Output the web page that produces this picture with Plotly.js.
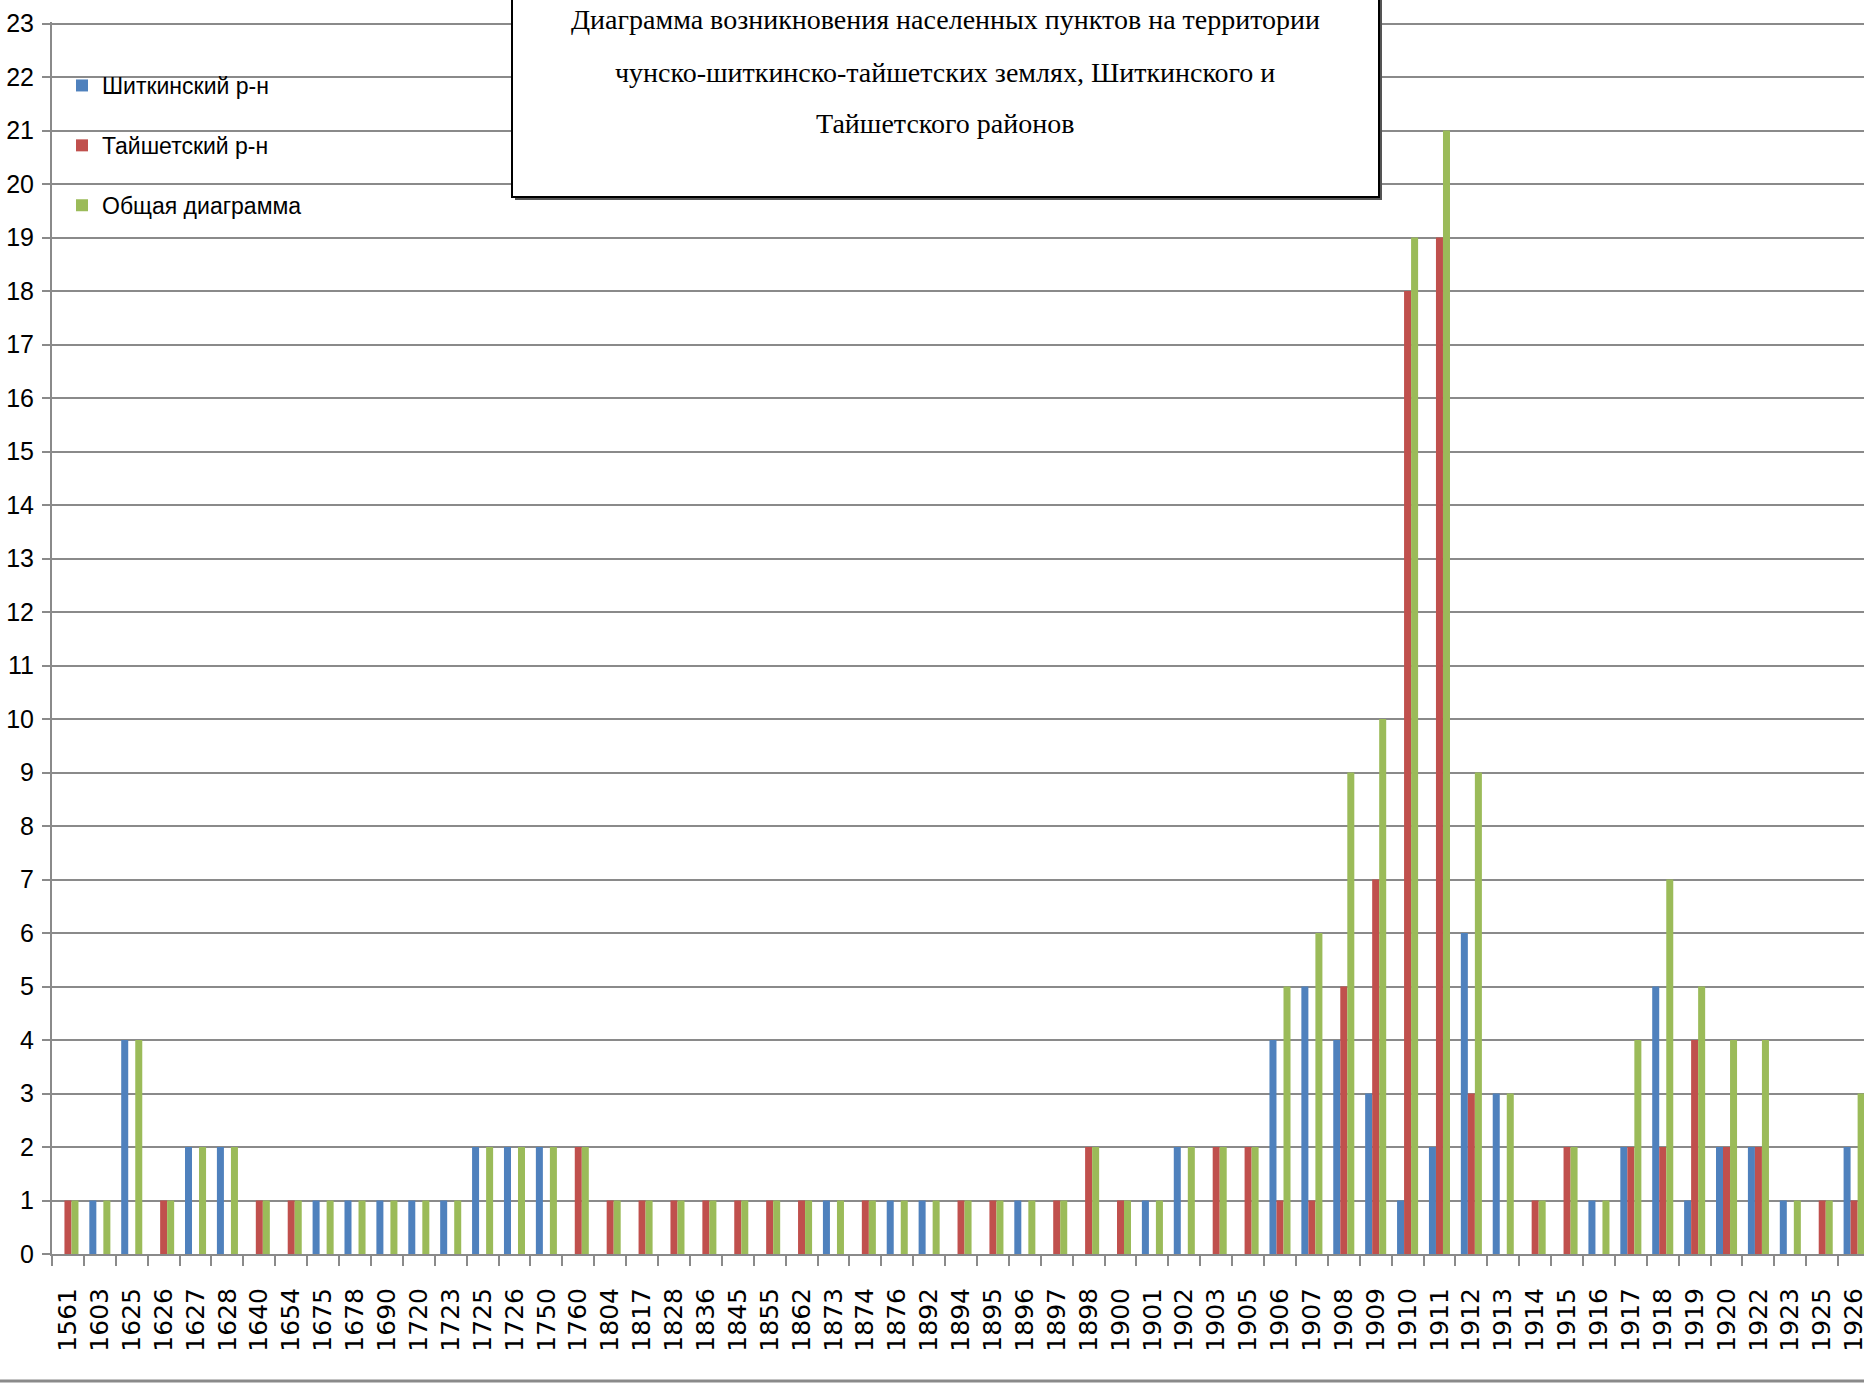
<!DOCTYPE html>
<html>
<head>
<meta charset="utf-8">
<script src="https://cdn.plot.ly/plotly-3.0.1.min.js"></script>
<style>
html,body{margin:0;padding:0;background:#fff;}
#chart{width:1864px;height:1383px;}
</style>
</head>
<body>
<div id="chart"></div>
<script>
const years = ['1561','1603','1625','1626','1627','1628','1640','1654','1675','1678','1690','1720','1723','1725','1726','1750','1760','1804','1817','1828','1836','1845','1855','1862','1873','1874','1876','1892','1894','1895','1896','1897','1898','1900','1901','1902','1903','1905','1906','1907','1908','1909','1910','1911','1912','1913','1914','1915','1916','1917','1918','1919','1920','1922','1923','1925','1926'];
const shitkinsky = [0,1,4,0,2,2,0,0,1,1,1,1,1,2,2,2,0,0,0,0,0,0,0,0,1,0,1,1,0,0,1,0,0,0,1,2,0,0,4,5,4,3,1,2,6,3,0,0,1,2,5,1,2,2,1,0,2];
const taishet    = [1,0,0,1,0,0,1,1,0,0,0,0,0,0,0,0,2,1,1,1,1,1,1,1,0,1,0,0,1,1,0,1,2,1,0,0,2,2,1,1,5,7,18,19,3,0,1,2,0,2,2,4,2,2,0,1,1];
const total      = [1,1,4,1,2,2,1,1,1,1,1,1,1,2,2,2,2,1,1,1,1,1,1,1,1,1,1,1,1,1,1,1,2,1,1,2,2,2,5,6,9,10,19,21,9,3,1,2,1,4,7,5,4,4,1,1,3];
const seriesNames = ['Шиткинский р-н','Тайшетский р-н','Общая диаграмма'];
const titleLines = ['Диаграмма возникновения населенных пунктов на территории','чунско-шиткинско-тайшетских землях, Шиткинского и','Тайшетского районов'];
const yTicks = [0,1,2,3,4,5,6,7,8,9,10,11,12,13,14,15,16,17,18,19,20,21,22,23];

const colors = ['#4F81BD','#C0504D','#9BBB59'];
const seriesData = [shitkinsky, taishet, total];

const W = 1864, H = 1383;
const L = 52, R = 0, T = 22, B = 129;
const pw = W - L - R, ph = H - T - B;
const px = x => (x - L) / pw;          // pixel x -> paper
const py = y => (H - B - y) / ph;      // pixel y -> paper

const traces = seriesData.map((d, i) => ({
  type: 'bar',
  x: years,
  y: d,
  name: seriesNames[i],
  legendgroup: 'g' + i,
  marker: {color: colors[i], line: {width: 0}},
  hoverinfo: 'x+y+name'
}));

const titleY = [20, 72, 124];
const annotations = titleLines.map((t, i) => ({
  text: t, xref: 'paper', yref: 'paper',
  x: px(945), y: py(titleY[i]), xanchor: 'center', yanchor: 'middle',
  showarrow: false,
  font: {family: 'Liberation Serif, Times New Roman, serif', size: 28, color: '#000'}
}));

const layout = {
  width: W, height: H,
  margin: {l: L, r: R, t: T, b: B, pad: 0},
  paper_bgcolor: '#fff', plot_bgcolor: '#fff',
  barmode: 'group', bargap: 0.34, bargroupgap: 0,
  showlegend: true,
  legend: {
    x: px(62), y: py(64), xanchor: 'left', yanchor: 'top',
    bgcolor: 'rgba(0,0,0,0)', borderwidth: 0,
    traceorder: 'grouped', tracegroupgap: 27,
    font: {family: 'Liberation Sans Narrow, Arial Narrow, sans-serif', size: 23, color: '#000'},
    itemwidth: 30
  },
  xaxis: {
    type: 'category',
    range: [-0.5, 56.31],
    tickson: 'boundaries',
    ticks: 'outside', ticklen: 10, tickwidth: 2, tickcolor: '#8a8a8a',
    tickangle: -90,
    ticklabelstandoff: 22,
    tickfont: {family: 'DejaVu Sans, sans-serif', size: 25, color: '#000'},
    showline: true, linecolor: '#8a8a8a', linewidth: 2,
    showgrid: false, zeroline: false, fixedrange: true
  },
  yaxis: {
    range: [0, 23.03],
    tickmode: 'array', tickvals: yTicks, ticktext: yTicks.map(String),
    ticks: 'outside', ticklen: 8, tickwidth: 2, tickcolor: '#8a8a8a',
    ticklabelstandoff: 3,
    tickfont: {family: 'Liberation Sans Narrow, Arial Narrow, sans-serif', size: 25, color: '#000'},
    showline: true, linecolor: '#8a8a8a', linewidth: 2,
    showgrid: true, gridcolor: '#8a8a8a', gridwidth: 2,
    zeroline: false, fixedrange: true
  },
  shapes: [
    {type: 'rect', xref: 'paper', yref: 'paper', x0: px(515), x1: px(1382), y0: py(200), y1: py(-10),
     fillcolor: '#555', line: {width: 0}, layer: 'above'},
    {type: 'rect', xref: 'paper', yref: 'paper', x0: px(512), x1: px(1379), y0: py(197), y1: py(-10),
     fillcolor: '#fff', line: {color: '#000', width: 2}, layer: 'above'},
    {type: 'line', xref: 'paper', yref: 'paper', x0: px(0), x1: px(1864), y0: py(1381), y1: py(1381),
     line: {color: '#8a8a8a', width: 3}}
  ],
  annotations: annotations
};

Plotly.newPlot('chart', traces, layout, {displayModeBar: false, staticPlot: true});
</script>
</body>
</html>
